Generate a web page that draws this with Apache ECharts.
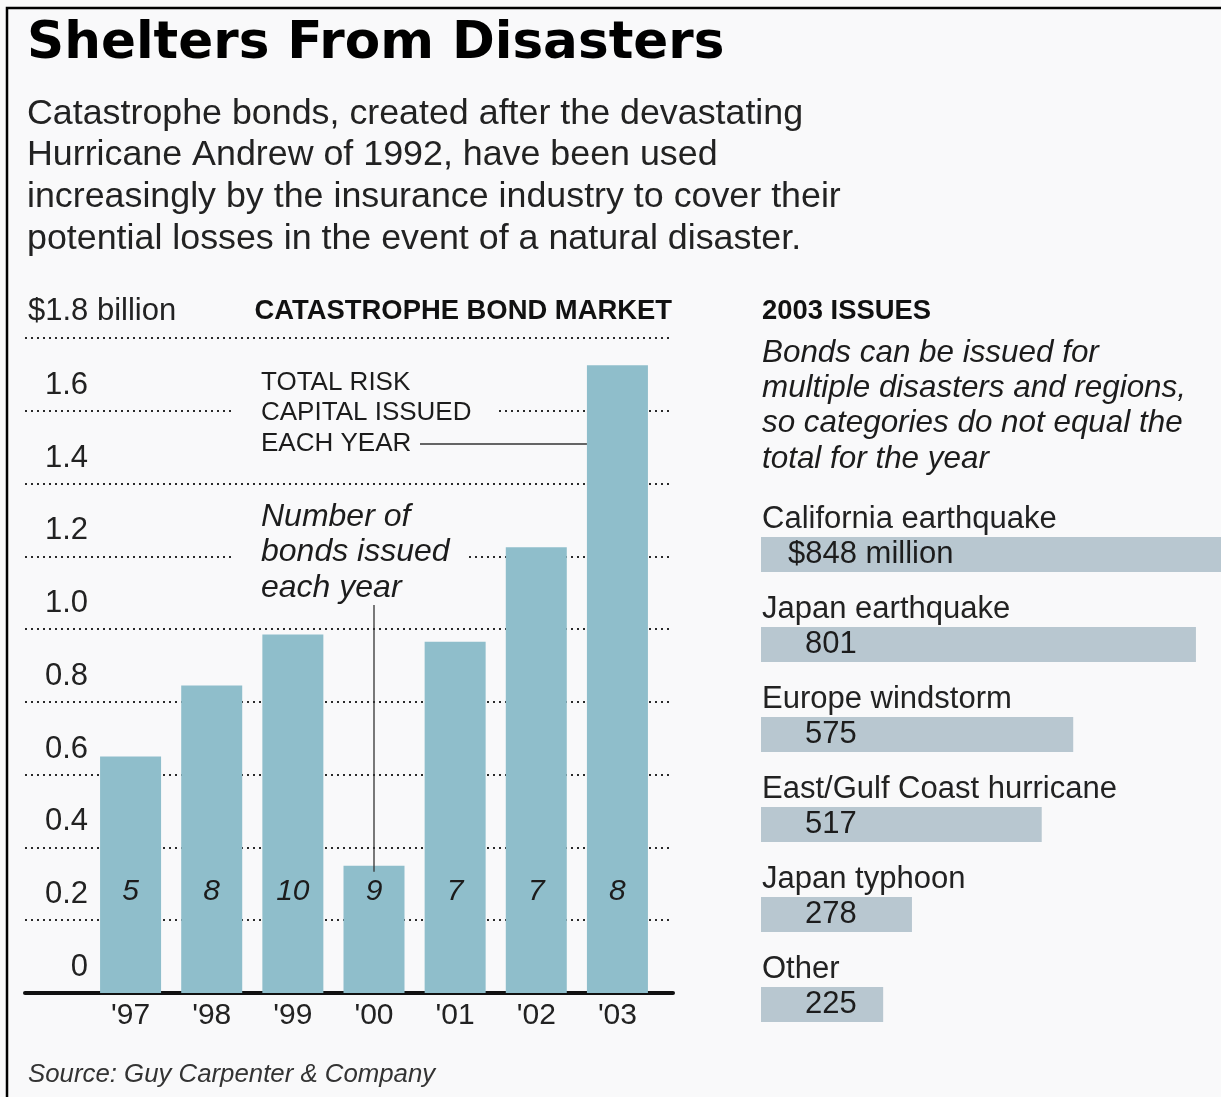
<!DOCTYPE html>
<html>
<head>
<meta charset="utf-8">
<script src="https://cdn.jsdelivr.net/npm/echarts@6/dist/echarts.min.js"></script>
<style>
  html, body { margin: 0; padding: 0; background: #f9f9fa; }
  #main { width: 1221px; height: 1097px; }
</style>
</head>
<body>
<div id="main"></div>
<script>
// Catastrophe bond market: total risk capital issued each year ($ billion)
const years = ["'97", "'98", "'99", "'00", "'01", "'02", "'03"];
const riskCapital = [0.65, 0.845, 0.985, 0.35, 0.965, 1.225, 1.725];
const bondCounts = [5, 8, 10, 9, 7, 7, 8];

// 2003 issues by peril ($ million)
const issueCategories = ['California earthquake', 'Japan earthquake', 'Europe windstorm',
  'East/Gulf Coast hurricane', 'Japan typhoon', 'Other'];
const issueValues = [848, 801, 575, 517, 278, 225];

const FONT = '"Liberation Sans", Arial, Helvetica, sans-serif';
const BG = '#f9f9fa';
const INK = '#1c1c1c';

const chart = echarts.init(document.getElementById('main'), null, { renderer: 'canvas' });

const issueData = issueValues.map((v, i) => i === 0
  ? { value: v, label: { distance: 27, formatter: '$' + v + ' million' } }
  : { value: v });

chart.setOption({
  backgroundColor: BG,
  animation: false,
  grid: [
    { left: 25, top: 338, width: 648, height: 655, outerBoundsMode: 'none' },
    { left: 90, top: 338, width: 568, height: 655, outerBoundsMode: 'none' },
    { left: 761, top: 509.5, width: 543, height: 540, outerBoundsMode: 'none' }
  ],
  xAxis: [
    { gridIndex: 0, type: 'value', min: 0, max: 1,
      axisLine: { show: true, lineStyle: { color: '#111', width: 4 } },
      axisTick: { show: false }, axisLabel: { show: false }, splitLine: { show: false } },
    { gridIndex: 1, type: 'category', data: years,
      axisLine: { show: false }, axisTick: { show: false },
      axisLabel: { interval: 0, margin: 8, fontSize: 30, fontFamily: FONT, color: '#222' } },
    { gridIndex: 2, type: 'value', min: 0, max: 1000, show: false }
  ],
  yAxis: [
    { gridIndex: 0, type: 'value', min: 0, max: 1.8, interval: 0.2,
      axisLine: { show: false }, axisTick: { show: false },
      splitLine: { show: true, lineStyle: { type: [2, 4], color: '#2a2a2a', width: 2 } },
      axisLabel: {
        inside: true, align: 'right', margin: 63, verticalAlign: 'bottom',
        lineHeight: 51, fontSize: 31, fontFamily: FONT, color: '#222',
        formatter: v => (v > 1.7 ? '' : (v === 0 ? '0' : v.toFixed(1)))
      } },
    { gridIndex: 1, type: 'value', min: 0, max: 1.8, show: false },
    { gridIndex: 2, type: 'category', data: issueCategories, inverse: true,
      axisLine: { show: false }, axisTick: { show: false },
      axisLabel: {
        inside: true, interval: 0, margin: 1, align: 'left', verticalAlign: 'bottom',
        lineHeight: 71, fontSize: 31, fontFamily: FONT, color: '#222'
      } }
  ],
  series: [
    {
      type: 'bar', xAxisIndex: 1, yAxisIndex: 1, data: riskCapital, barWidth: 61,
      itemStyle: { color: '#8fbecb' },
      label: {
        show: true, position: 'insideBottom', distance: 86,
        formatter: p => String(bondCounts[p.dataIndex]),
        fontSize: 30, fontStyle: 'italic', fontFamily: FONT, color: INK
      }
    },
    {
      type: 'bar', xAxisIndex: 2, yAxisIndex: 2, data: issueData, barWidth: 35,
      itemStyle: { color: '#b8c7d0' },
      label: {
        show: true, position: 'insideLeft', distance: 44,
        fontSize: 31, fontFamily: FONT, color: INK
      }
    }
  ]
});

// Annotations anchored to the bars they describe
const p00 = chart.convertToPixel({ gridIndex: 1 }, [years[3], riskCapital[3]]);
const p03 = chart.convertToPixel({ gridIndex: 1 }, [years[6], riskCapital[6]]);
const barHalf = 30.5;

function txt(text, x, y, size, opts) {
  return {
    type: 'text', z: 110,
    style: Object.assign({
      text: text, x: x, y: y, fontSize: size, fontFamily: FONT, fill: INK,
      verticalAlign: 'middle', align: 'left'
    }, opts || {})
  };
}

chart.setOption({
  graphic: [
    // frame
    { type: 'rect', z: 120, shape: { x: 7, y: 8, width: 1400, height: 1300 },
      style: { fill: 'none', stroke: '#000', lineWidth: 2.5 } },
    // headline and deck
    txt('Shelters From Disasters', 27, 45, 51.6,
      { fontFamily: '"DejaVu Sans", ' + FONT, fontWeight: 'bold', fill: '#000' }),
    { type: 'text', z: 110, style: {
      text: 'Catastrophe bonds, created after the devastating\nHurricane Andrew of 1992, have been used\nincreasingly by the insurance industry to cover their\npotential losses in the event of a natural disaster.',
      x: 27, y: 93, fontSize: 35.8, lineHeight: 41.7, fontFamily: FONT, fill: '#222',
      verticalAlign: 'top', align: 'left' } },
    // left panel headings
    txt('$1.8 billion', 28, 311, 31, { fill: '#222' }),
    txt('CATASTROPHE BOND MARKET', 672, 311, 27.4, { fontWeight: 'bold', align: 'right', fill: '#111' }),
    // gaps in the gridlines behind the annotation text
    { type: 'rect', z: 105, shape: { x: 233, y: 404, width: 264, height: 12 }, style: { fill: BG } },
    { type: 'rect', z: 105, shape: { x: 233, y: 550, width: 233, height: 12 }, style: { fill: BG } },
    txt('TOTAL RISK', 261, 383, 26),
    txt('CAPITAL ISSUED', 261, 413, 26),
    txt('EACH YEAR', 261, 444, 26),
    { type: 'line', z: 110, shape: { x1: 420, y1: 444, x2: p03[0] - barHalf, y2: 444 },
      style: { stroke: '#333', lineWidth: 1.3 } },
    txt('Number of', 261, 517, 32, { fontStyle: 'italic' }),
    txt('bonds issued', 261, 552, 32, { fontStyle: 'italic' }),
    txt('each year', 261, 588, 32, { fontStyle: 'italic' }),
    { type: 'line', z: 110, shape: { x1: p00[0], y1: 605, x2: p00[0], y2: p00[1] + 6 },
      style: { stroke: '#333', lineWidth: 1.3 } },
    // right panel headings
    txt('2003 ISSUES', 762, 311, 27.4, { fontWeight: 'bold', fill: '#111' }),
    { type: 'text', z: 110, style: {
      text: 'Bonds can be issued for\nmultiple disasters and regions,\nso categories do not equal the\ntotal for the year',
      x: 762, y: 335.4, fontSize: 31.4, lineHeight: 35.3, fontStyle: 'italic', fontFamily: FONT,
      fill: INK, verticalAlign: 'top', align: 'left' } },
    // source line
    txt('Source: Guy Carpenter & Company', 28, 1075, 25.8, { fontStyle: 'italic', fill: '#333' })
  ]
});
</script>
</body>
</html>
